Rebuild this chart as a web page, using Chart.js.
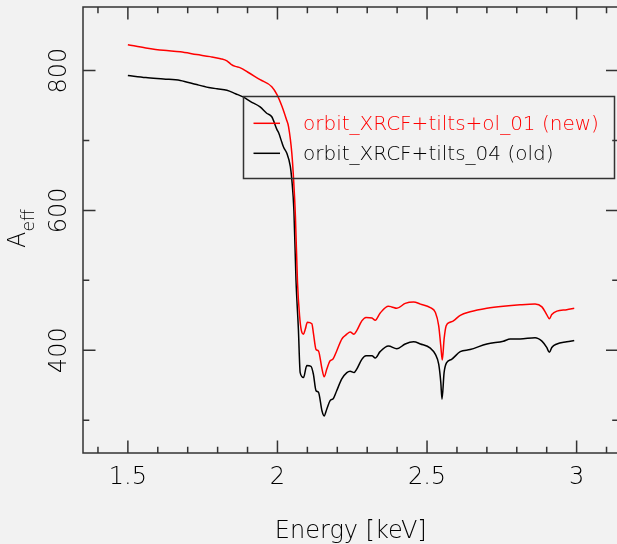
<!DOCTYPE html>
<html>
<head>
<meta charset="utf-8">
<script src="https://cdn.jsdelivr.net/npm/chart.js@4.4.0/dist/chart.umd.min.js"></script>
<style>
html, body { margin: 0; padding: 0; background: #f2f2f2; overflow: hidden; }
#wrap { width: 622px; height: 544px; }
</style>
</head>
<body>
<div id="wrap"><canvas id="aeffChart" width="622" height="544"></canvas></div>
<script>
// effective area vs energy
var energyNew = [1.500, 1.560, 1.619, 1.675, 1.730, 1.775, 1.810, 1.831, 1.845, 1.859, 1.876, 1.900, 1.942, 1.981, 1.998,
  2.015, 2.030, 2.037, 2.048, 2.054, 2.060, 2.067, 2.074, 2.080, 2.087, 2.093, 2.100, 2.115, 2.120, 2.129, 2.137,
  2.149, 2.156, 2.165, 2.176, 2.185, 2.198, 2.215, 2.232, 2.243, 2.256, 2.265, 2.282, 2.296, 2.316, 2.327, 2.343,
  2.371, 2.382, 2.399, 2.427, 2.455, 2.478, 2.511, 2.528, 2.539, 2.546, 2.551, 2.557, 2.564, 2.577, 2.588, 2.611,
  2.644, 2.700, 2.755, 2.811, 2.861, 2.884, 2.900, 2.909, 2.917, 2.934, 2.967, 2.992];
var aeffNew = [837, 832.5, 829, 827, 823, 820, 817, 814, 809, 806, 804, 798, 787, 777, 766,
  749, 730, 720, 682, 644, 592, 497, 449, 428, 423, 430, 440, 438, 425, 401, 399,
  373, 362, 373, 385, 387, 399, 416, 423, 426, 423, 428, 442, 447, 446, 443, 453,
  463, 462, 460, 467, 469, 466, 461, 454, 435, 406, 386, 416, 435, 440, 442, 450,
  455, 460, 463, 465, 466, 462, 451, 445, 451, 456, 458, 460];

var energyOld = [1.500, 1.560, 1.619, 1.675, 1.730, 1.770, 1.798, 1.831, 1.860, 1.887, 1.909, 1.942, 1.964, 1.981, 1.998,
  2.004, 2.015, 2.021, 2.031, 2.043, 2.048, 2.055, 2.062, 2.070, 2.076, 2.087, 2.098, 2.112, 2.120, 2.129, 2.137,
  2.149, 2.156, 2.165, 2.176, 2.187, 2.198, 2.215, 2.232, 2.243, 2.256, 2.265, 2.282, 2.296, 2.316, 2.327, 2.343,
  2.371, 2.399, 2.427, 2.455, 2.478, 2.511, 2.528, 2.539, 2.546, 2.550, 2.557, 2.565, 2.582, 2.611, 2.644, 2.700,
  2.755, 2.778, 2.811, 2.861, 2.884, 2.900, 2.909, 2.917, 2.934, 2.967, 2.992];
var aeffOld = [793, 790, 788, 786, 780, 776, 774, 772, 767, 762, 756, 748, 739, 734, 716,
  711, 697, 690, 682, 663, 644, 600, 500, 430, 368, 361, 378, 377, 366, 342, 340,
  313, 306, 316, 328, 331, 342, 359, 368, 370, 368, 373, 387, 392, 392, 389, 398,
  406, 402, 409, 412, 409, 403, 394, 380, 354, 330, 368, 382, 387, 398, 401, 409,
  413, 416, 416, 418, 413, 404, 397, 404, 409, 412, 414];

var seriesLabels = ['orbit_XRCF+tilts+ol_01 (new)', 'orbit_XRCF+tilts_04 (old)'];
var seriesColors = ['#ff0000', '#000000'];
var yTickLabels = [400, 600, 800];
var xTitle = 'Energy [keV]';

function toPoints(xs, ys) {
  var pts = [];
  for (var i = 0; i < xs.length; i++) pts.push({ x: xs[i], y: ys[i] });
  return pts;
}

var FONT = '"DejaVu Sans", sans-serif';
var WEIGHT = 200;
var INK = '#000';
var FRAME = '#333';

// frame, inward ticks, y labels, titles and the boxed legend
var framePlugin = {
  id: 'frame',
  afterDraw: function (chart) {
    var ctx = chart.ctx;
    var a = chart.chartArea;
    var xs = chart.scales.x, ys = chart.scales.y;
    ctx.save();
    ctx.strokeStyle = FRAME;
    ctx.lineWidth = 1.5;
    ctx.strokeRect(a.left, a.top, a.right - a.left, a.bottom - a.top);

    ctx.beginPath();
    for (var i = 14; i <= 31; i++) {
      var px = xs.getPixelForValue(i / 10);
      var len = (i % 5 === 0) ? 12.5 : 6.3;
      ctx.moveTo(px, a.bottom); ctx.lineTo(px, a.bottom - len);
      ctx.moveTo(px, a.top); ctx.lineTo(px, a.top + len);
    }
    for (var j = 3; j <= 8; j++) {
      var py = ys.getPixelForValue(j * 100);
      var ylen = (j % 2 === 0) ? 12.5 : 6.3;
      ctx.moveTo(a.left, py); ctx.lineTo(a.left + ylen, py);
      ctx.moveTo(a.right, py); ctx.lineTo(a.right - ylen, py);
    }
    ctx.stroke();

    // y tick labels, rotated
    ctx.fillStyle = INK;
    ctx.font = WEIGHT + ' 24px ' + FONT;
    ctx.textAlign = 'center';
    ctx.textBaseline = 'alphabetic';
    yTickLabels.forEach(function (v) {
      ctx.save();
      ctx.translate(66, ys.getPixelForValue(v));
      ctx.rotate(-Math.PI / 2);
      ctx.fillText(String(v), 0, 0);
      ctx.restore();
    });

    // y title A_eff
    ctx.save();
    ctx.translate(25, 248);
    ctx.rotate(-Math.PI / 2);
    ctx.textAlign = 'left';
    ctx.font = WEIGHT + ' 24px ' + FONT;
    ctx.fillText('A', 0, 0);
    var wA = ctx.measureText('A').width;
    ctx.font = WEIGHT + ' 17px ' + FONT;
    ctx.fillText('eff', wA, 9);
    ctx.restore();

    // x title
    ctx.font = WEIGHT + ' 24px ' + FONT;
    ctx.textAlign = 'center';
    ctx.fillText(xTitle, (a.left + a.right) / 2, 538);

    // legend box
    ctx.strokeStyle = FRAME;
    ctx.lineWidth = 1.5;
    ctx.strokeRect(243.5, 96.5, 371, 82);
    ctx.font = WEIGHT + ' 20px ' + FONT;
    ctx.textAlign = 'left';
    var rows = [123.3, 153.3];
    chart.data.datasets.forEach(function (ds, k) {
      ctx.strokeStyle = ds.borderColor;
      ctx.lineWidth = 1.5;
      ctx.beginPath();
      ctx.moveTo(253.5, rows[k]); ctx.lineTo(280, rows[k]);
      ctx.stroke();
      ctx.fillStyle = ds.borderColor;
      ctx.fillText(ds.label, 303, rows[k] + 6.5);
    });
    ctx.restore();
  }
};

var ctx = document.getElementById('aeffChart');
var aeffChart = new Chart(ctx, {
  type: 'line',
  data: {
    datasets: [{
      label: seriesLabels[0],
      data: toPoints(energyNew, aeffNew),
      borderColor: seriesColors[0],
      borderWidth: 1.5,
      pointRadius: 0,
      cubicInterpolationMode: 'monotone',
      fill: false
    }, {
      label: seriesLabels[1],
      data: toPoints(energyOld, aeffOld),
      borderColor: seriesColors[1],
      borderWidth: 1.5,
      pointRadius: 0,
      cubicInterpolationMode: 'monotone',
      fill: false
    }]
  },
  options: {
    responsive: false,
    animation: false,
    devicePixelRatio: 1,
    layout: { padding: { top: 7, right: 3.5, left: 0, bottom: 0 } },
    plugins: {
      legend: { display: false },
      tooltip: { enabled: false }
    },
    scales: {
      x: {
        type: 'linear',
        min: 1.35,
        max: 3.14,
        grid: { display: false, drawTicks: false },
        border: { display: false },
        ticks: {
          stepSize: 0.5,
          includeBounds: false,
          maxRotation: 0,
          autoSkip: false,
          padding: 10,
          color: INK,
          font: { family: FONT, size: 24, weight: WEIGHT },
          callback: function (v) { return String(Number(v)); }
        },
        afterFit: function (s) { s.height = 91; }
      },
      y: {
        type: 'linear',
        min: 253,
        max: 891,
        grid: { display: false, drawTicks: false },
        border: { display: false },
        ticks: { display: false },
        afterFit: function (s) { s.width = 83; }
      }
    }
  },
  plugins: [framePlugin]
});
</script>
</body>
</html>
